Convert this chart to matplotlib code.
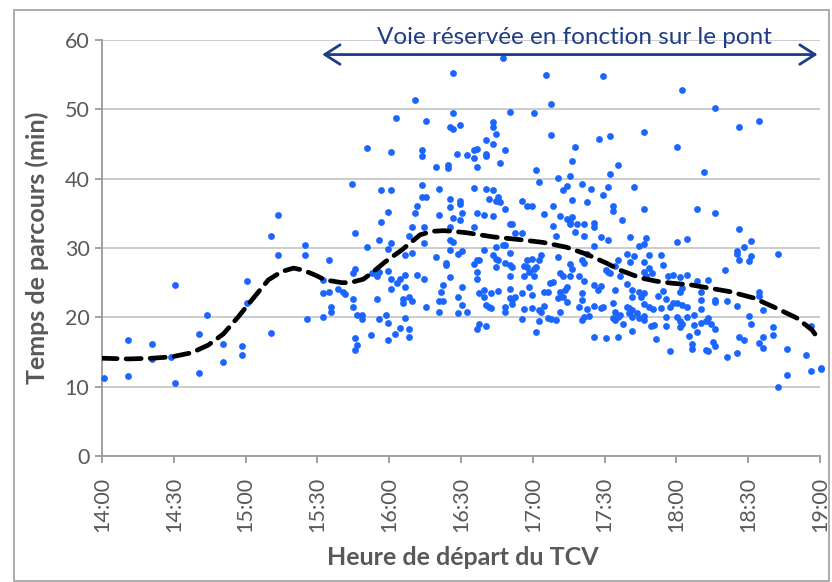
import numpy as np
import matplotlib
matplotlib.use("Agg")
import matplotlib.pyplot as plt
from matplotlib.patches import Rectangle

# (minutes après 14:00, temps de parcours en min) pour chaque départ de TCV
trajets = [
    (1.0, 11.3), (10.7, 11.5), (10.7, 16.7), (20.7, 16.1), (20.7, 14.0), (28.8, 14.3),
    (30.6, 24.6), (30.6, 10.5), (40.7, 17.6), (40.7, 12.0), (43.7, 20.3), (50.7, 16.1),
    (50.7, 13.5), (58.7, 15.8), (58.7, 14.6), (60.7, 25.2), (60.7, 22.1), (70.7, 17.7),
    (70.7, 31.7), (73.5, 34.7), (73.5, 29.0), (84.7, 30.5), (84.7, 29.0), (85.5, 19.8),
    (92.5, 20.0), (92.5, 23.5), (92.5, 25.4),
    # 15:30 - 16:40
    (146.5, 55.2), (130.7, 51.4), (146.5, 49.5), (122.7, 48.8), (135.5, 48.3), (145.5, 47.5),
    (146.7, 47.1), (149.6, 47.7), (110.6, 44.4), (120.6, 43.8), (133.6, 44.2), (133.6, 43.3),
    (148.5, 43.5), (152.5, 43.4), (155.5, 44.1), (156.6, 44.3), (155.5, 43.0), (156.6, 41.7),
    (139.6, 41.7), (144.6, 41.9), (144.6, 41.6), (104.5, 39.3), (116.6, 38.4), (120.6, 38.4),
    (133.6, 39.1), (140.6, 38.5), (155.5, 38.7), (133.6, 37.4), (135.5, 37.4), (145.5, 37.1),
    (149.5, 36.8), (149.5, 36.4), (131.6, 36.1), (145.5, 35.9), (119.7, 35.2), (130.7, 35.1),
    (140.6, 34.8), (150.6, 35.0), (156.6, 35.0), (146.5, 34.3), (149.5, 34.0), (116.6, 33.7),
    (129.5, 33.1), (134.6, 33.1), (145.5, 33.1), (155.5, 33.1),
    (105.6, 32.1), (128.4, 31.7), (115.8, 31.2), (120.6, 30.7), (119.7, 29.9), (134.6, 30.7),
    (145.5, 31.2), (146.5, 30.9), (145.5, 29.7), (110.6, 30.1), (129.5, 29.3), (126.6, 29.0),
    (139.6, 28.7), (150.6, 29.5), (148.6, 29.1), (143.6, 27.9), (143.6, 27.5), (155.5, 27.7),
    (156.6, 28.3), (94.7, 28.2), (105.6, 27.0), (104.8, 26.4), (112.7, 26.4), (114.8, 26.0),
    (115.8, 26.6), (119.7, 26.7), (120.6, 25.5), (126.6, 26.1), (131.6, 26.1), (134.6, 25.6),
    (145.5, 25.8), (156.6, 26.6), (156.6, 25.5), (124.5, 25.5), (123.4, 25.0), (126.6, 24.4),
    (120.6, 24.1), (142.6, 24.6), (141.5, 23.7), (150.6, 24.4), (94.7, 23.6), (98.6, 24.1),
    (100.6, 23.7), (101.7, 23.4), (104.8, 22.6), (104.8, 21.5), (114.8, 22.6), (125.7, 22.6),
    (125.7, 22.0), (128.4, 22.9), (129.5, 22.4), (135.5, 21.5), (140.6, 22.4), (142.6, 22.4),
    (148.6, 23.0), (150.6, 21.8), (95.7, 21.5), (95.7, 20.7), (140.6, 20.7), (148.6, 20.6),
    (152.5, 20.7), (106.6, 20.4), (108.7, 20.4), (108.7, 19.8), (115.8, 19.8), (118.7, 20.3),
    (119.7, 19.2), (126.6, 19.9), (124.5, 18.5), (128.4, 18.3), (128.4, 17.1), (122.6, 17.6),
    (112.5, 17.4), (119.7, 16.8), (105.6, 17.0), (106.6, 16.0), (105.6, 15.3), (156.6, 18.3),
    (157.4, 19.1),
    # 16:40 - 17:45
    (167.6, 57.4), (185.5, 54.9), (209.5, 54.8), (187.5, 50.8), (170.5, 49.6), (180.5, 49.5),
    (163.5, 48.2), (163.5, 47.4), (164.5, 46.5), (160.6, 45.6), (163.5, 45.0), (160.6, 43.6),
    (160.6, 43.3), (168.5, 44.1), (187.5, 46.3), (207.6, 45.7), (212.4, 46.1), (197.5, 44.6),
    (166.4, 42.2), (181.5, 41.2), (196.5, 42.6), (215.5, 41.9), (212.4, 40.7), (190.7, 40.1),
    (195.6, 40.4), (182.6, 39.5), (160.6, 38.5), (163.5, 38.3), (161.6, 37.1), (164.5, 36.8),
    (165.5, 37.4), (166.4, 36.7), (168.5, 35.6), (175.5, 36.8), (177.5, 36.0), (179.6, 36.0),
    (188.6, 36.1), (192.5, 38.3), (194.4, 38.9), (200.6, 39.3), (204.5, 38.5), (211.4, 38.8),
    (209.5, 37.6), (222.4, 38.8), (196.5, 36.9), (202.5, 36.6), (213.4, 36.0), (213.4, 35.4),
    (159.6, 34.7), (163.5, 34.6), (184.6, 34.9), (191.5, 34.6), (194.4, 34.2), (196.5, 34.4),
    (217.4, 34.0), (170.5, 33.4), (171.5, 33.4), (188.6, 33.2), (195.6, 33.8), (195.6, 33.4),
    (198.5, 33.4), (201.5, 33.4), (205.6, 33.6), (205.6, 33.1),
    (172.5, 32.2), (175.5, 32.1), (197.5, 32.3), (201.5, 31.7), (189.6, 31.7), (208.5, 31.6),
    (211.4, 31.2), (220.5, 31.6), (168.5, 30.5), (167.4, 30.5), (159.6, 29.7), (164.5, 30.1),
    (163.5, 29.0), (164.5, 28.4), (170.5, 29.3), (157.5, 28.2), (165.5, 28.2), (168.5, 27.8),
    (170.5, 27.5), (171.5, 27.2), (164.5, 27.2), (177.5, 28.2), (179.6, 28.4), (177.5, 27.2),
    (176.5, 27.4), (182.6, 28.3), (183.5, 29.0), (181.5, 27.3), (180.5, 27.0), (178.6, 26.5),
    (176.5, 26.0), (170.5, 25.9), (180.5, 25.9), (190.6, 28.7), (195.6, 27.7), (196.5, 27.0),
    (200.6, 28.3), (201.5, 27.8), (202.5, 29.2), (205.5, 30.3), (215.5, 28.3), (214.5, 27.4),
    (220.5, 28.0), (222.4, 28.8), (219.5, 29.1), (210.5, 26.8), (211.4, 26.6), (212.4, 26.4),
    (191.5, 26.4), (192.8, 26.0), (195.6, 25.9), (199.5, 25.9), (201.5, 25.3), (216.5, 25.9),
    (219.2, 24.8), (159.6, 24.0), (157.5, 23.5), (162.6, 23.5), (165.5, 23.8), (170.5, 24.1),
    (175.5, 23.5), (178.6, 24.4), (179.6, 23.2), (184.6, 23.7), (186.5, 23.7), (187.2, 24.9),
    (188.6, 25.1), (191.4, 23.7), (193.5, 24.0), (194.4, 24.4), (190.6, 22.8), (192.5, 22.9),
    (200.6, 23.5), (200.6, 22.5), (199.5, 21.5), (205.5, 24.6), (207.4, 24.0), (208.4, 24.5),
    (214.5, 23.9), (221.5, 23.9), (159.6, 23.0), (160.6, 21.8), (161.6, 21.5), (162.6, 21.4),
    (168.5, 21.5), (168.5, 20.8), (170.5, 22.8), (171.5, 22.5), (172.5, 22.9), (171.5, 21.9),
    (176.5, 21.2), (179.6, 21.3), (182.6, 21.1), (183.5, 20.7), (184.6, 21.6), (191.4, 20.7),
    (194.4, 22.2), (202.5, 21.2), (203.5, 20.2), (201.5, 20.0), (200.6, 19.6), (205.5, 21.7),
    (208.5, 21.3), (209.5, 21.5), (213.4, 22.0), (214.5, 20.7), (215.5, 20.1), (216.5, 20.3),
    (219.4, 21.5), (220.4, 21.3), (221.5, 21.1), (220.4, 20.6), (221.5, 20.1), (223.4, 20.6),
    (175.5, 19.7), (182.6, 19.4), (186.5, 19.9), (187.5, 19.7), (189.6, 19.6), (213.4, 19.9),
    (214.5, 19.6), (217.6, 19.0), (160.6, 18.8), (181.5, 17.9), (221.5, 18.0), (205.6, 17.2),
    (210.5, 17.0), (215.5, 17.1),
    # 17:45 - 19:00
    (242.4, 52.8), (256.3, 50.2), (226.4, 46.8), (266.3, 47.5), (274.4, 48.3), (240.4, 44.6),
    (251.4, 41.0), (226.4, 35.6), (248.5, 35.6), (256.3, 35.1), (266.3, 32.7),
    (271.2, 31.0), (268.4, 30.1), (265.4, 29.6), (265.4, 29.2), (266.3, 28.3), (271.2, 28.9),
    (270.4, 28.1), (282.4, 29.1), (240.4, 30.8), (244.5, 31.3), (224.3, 30.3), (226.4, 30.6),
    (227.3, 31.4), (228.4, 29.0), (226.4, 28.0), (233.6, 29.0), (234.4, 27.6), (226.4, 26.6),
    (228.4, 27.1), (227.5, 26.0), (229.6, 26.4), (236.4, 25.9), (238.5, 26.1), (241.5, 25.8),
    (244.5, 26.1), (248.4, 25.2), (253.4, 25.4), (260.3, 26.8), (250.3, 23.7), (250.3, 22.5),
    (250.3, 21.2), (241.4, 23.7), (242.4, 24.2), (232.5, 23.1), (234.4, 23.8), (226.4, 23.5),
    (225.4, 23.0), (224.3, 23.7), (221.6, 23.0), (235.5, 22.6), (238.5, 22.0), (240.4, 22.0),
    (242.4, 21.8), (244.5, 21.5), (237.5, 21.5), (226.4, 21.9), (228.4, 21.5), (230.4, 21.2),
    (233.6, 21.3), (256.2, 22.5), (256.2, 22.2), (261.3, 22.4), (265.4, 21.7), (274.4, 23.7),
    (274.4, 23.1), (276.3, 21.1), (224.3, 19.9), (226.4, 20.2), (226.4, 19.6), (235.5, 20.0),
    (235.5, 18.8), (240.4, 20.0), (241.4, 19.4), (242.4, 19.1), (241.4, 18.6), (244.5, 20.0),
    (247.4, 20.3), (247.4, 18.9), (248.4, 17.9), (245.4, 17.3), (250.3, 19.2), (252.4, 19.4),
    (253.4, 19.9), (254.4, 19.1), (256.3, 18.3), (229.5, 18.8), (230.5, 18.9), (231.5, 16.9),
    (237.5, 15.2), (246.4, 16.2), (246.4, 15.4), (252.4, 15.3), (253.4, 15.2), (255.3, 16.5),
    (256.3, 15.9), (261.3, 14.3), (265.4, 14.8), (266.3, 17.1), (268.4, 16.7), (270.4, 20.2),
    (271.3, 19.1), (274.4, 16.3), (276.3, 17.1), (276.3, 15.6), (280.5, 18.6), (280.5, 17.5),
    (286.4, 15.5), (282.4, 10.0), (286.4, 11.7), (294.3, 14.5), (296.3, 18.8), (296.3, 12.3),
    (300.3, 12.7), (300.3, 12.5),
]

# courbe de tendance (moyenne mobile)
tendance = [
    (0, 14.1), (11, 14.0), (20.7, 14.1), (29.1, 14.3), (37.5, 14.9), (44.4, 16.0),
    (50.7, 17.6), (57.0, 20.1), (62.6, 22.5), (69.5, 25.4), (75.1, 26.6), (80, 27.1),
    (84.1, 26.8), (89, 26.1), (93.2, 25.4), (100.2, 25.0), (103.6, 25.0), (109.2, 25.5),
    (112.7, 26.4), (118.3, 28.0), (125.2, 29.7), (128.7, 30.7), (132.9, 31.9), (137.8, 32.4),
    (142.6, 32.5), (146.8, 32.4), (152.4, 32.2), (163.5, 31.6), (174.7, 31.2), (184.4, 30.8),
    (194.2, 30.1), (202.5, 29.1), (210.9, 27.8), (216.5, 26.8), (223.4, 25.9), (226.2, 25.6),
    (231.8, 25.2), (238.7, 24.9), (245.7, 24.7), (254.1, 24.2), (262.4, 23.7), (272.2, 22.8),
    (281.9, 21.3), (290.3, 19.9), (296.6, 18.2), (300.0, 16.6),
]

heures = ["14:00", "14:30", "15:00", "15:30", "16:00", "16:30",
          "17:00", "17:30", "18:00", "18:30", "19:00"]
voie_debut, voie_fin = 92, 299   # période où la voie réservée est en fonction

gris = "#595959"
bleu_fonce = "#1F3C88"

plt.rcParams["font.family"] = ["Lato", "DejaVu Sans"]

fig = plt.figure(figsize=(8.32, 5.82), dpi=100)
ax = fig.add_axes([102 / 832, 1 - 456 / 582, 718 / 832, 416 / 582])

depart, duree = np.array(trajets).T
ax.scatter(depart, duree, s=24, color="#1A66FF", linewidths=0, zorder=3, clip_on=False)

tx, ty = np.array(tendance).T
ax.plot(tx, ty, color="black", lw=3.4, ls=(0, (3.2, 1.9)), dash_capstyle="round", zorder=4)

ax.set_xlim(0, 300)
ax.set_ylim(0, 60)
ax.set_xticks(np.arange(0, 301, 30))
ax.set_xticklabels(heures, rotation=90)
ax.set_yticks(np.arange(0, 61, 10))

ax.grid(axis="y", color="#C8C8C8", lw=1.3)
ax.set_axisbelow(True)
for s in ["top", "right"]:
    ax.spines[s].set_visible(False)
for s in ["left", "bottom"]:
    ax.spines[s].set_color("#9A9A9A")
    ax.spines[s].set_linewidth(1.3)
ax.tick_params(axis="both", colors="#9A9A9A", labelcolor=gris, labelsize=15.5,
               length=5, width=1.3)
ax.tick_params(axis="y", pad=4)
ax.tick_params(axis="x", pad=10)

ax.set_ylabel("Temps de parcours (min)", fontsize=18, fontweight="bold", color=gris)
ax.yaxis.label.set_va("center")
ax.yaxis.set_label_coords(-0.0905, 0.5)
ax.set_xlabel("Heure de départ du TCV", fontsize=18, fontweight="bold", color=gris)
ax.xaxis.label.set_va("center")
ax.xaxis.set_label_coords(0.503, -0.243)

ax.annotate("", xy=(voie_debut, 57.9), xytext=(voie_fin, 57.9),
            arrowprops=dict(arrowstyle="<->,head_length=0.55,head_width=0.35",
                            color=bleu_fonce, lw=2, mutation_scale=20,
                            shrinkA=0, shrinkB=0),
            annotation_clip=False)
ax.text(197.5, 60.4, "Voie réservée en fonction sur le pont", ha="center", va="center",
        fontsize=17.5, color=bleu_fonce, clip_on=False)

fig.patches.append(Rectangle((14 / 832, 1 / 582), 815 / 832, 571 / 582,
                             transform=fig.transFigure, fill=False,
                             edgecolor="#A6A6A6", lw=1.3))

fig.savefig("out.png", dpi=100)
